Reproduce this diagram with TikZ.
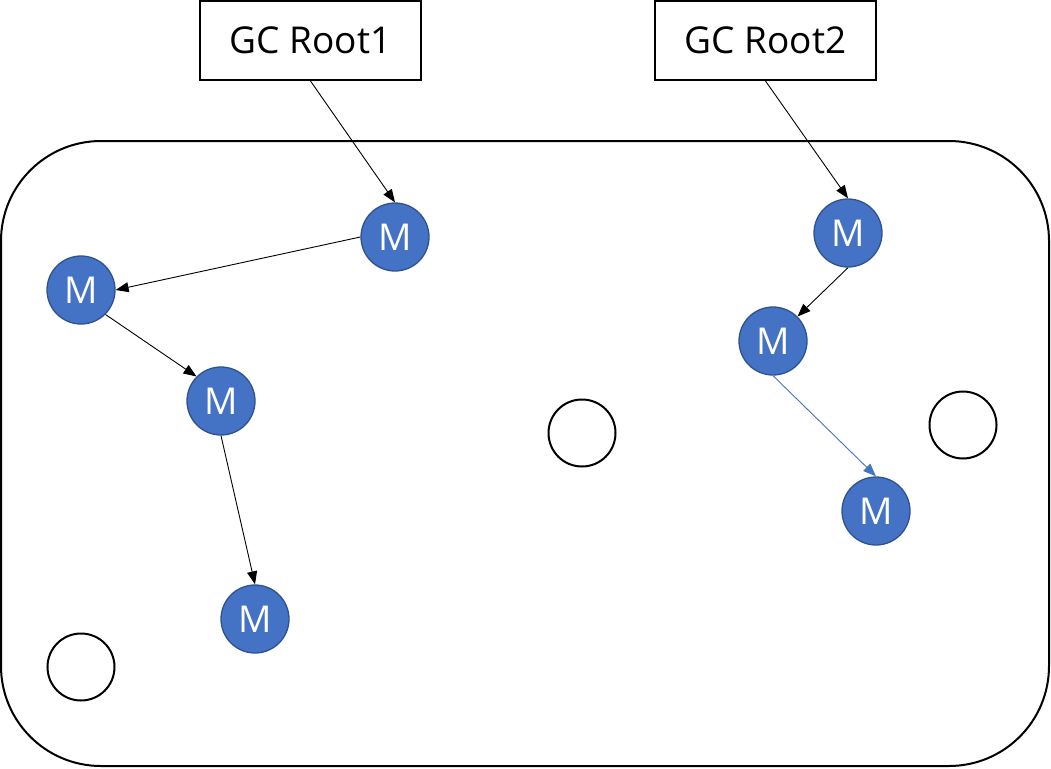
\documentclass[tikz,border=0pt]{standalone}
\usepackage{fontspec}
\setmainfont{Open Sans}
\usetikzlibrary{arrows.meta}
\definecolor{mblue}{HTML}{4472C4}
\definecolor{mborder}{HTML}{2F528F}
\begin{document}
\begin{tikzpicture}[x=1pt,y=-1pt,
  rootbox/.style={draw=black,line width=2pt,minimum width=221pt,minimum height=79pt,inner sep=0pt,font=\fontsize{37}{40}\selectfont},
  mnode/.style={circle,fill=mblue,draw=mborder,line width=1.3pt,minimum size=68pt,inner sep=0pt,text=white,font=\fontsize{37}{40}\selectfont},
  freenode/.style={circle,draw=black,line width=2pt,minimum size=67pt,inner sep=0pt},
  conn/.style={line width=0.9pt,-{Triangle[length=13pt,width=10pt]}},
  bconn/.style={conn,draw=mblue,-{Triangle[length=13pt,width=10pt,fill=mblue]}}
]
\useasboundingbox (0,0) rectangle (1051,768);
\draw[line width=2pt,rounded corners=100pt] (1,141) rectangle (1049,766);
\node[rootbox] (r1) at (310.5,40.5) {GC Root1};
\node[rootbox] (r2) at (765.5,40.5) {GC Root2};
\node[mnode] (m1) at (395,237) {M};
\node[mnode] (m2) at (81,290) {M};
\node[mnode] (m3) at (221,401) {M};
\node[mnode] (m4) at (255,619) {M};
\node[mnode] (m5) at (848,233) {M};
\node[mnode] (m6) at (773,341) {M};
\node[mnode] (m7) at (876,511) {M};
\node[freenode] (f1) at (582,433) {};
\node[freenode] (f2) at (963,425) {};
\node[freenode] (f3) at (81,667) {};
\draw[conn] (r1.south) -- (m1.north);
\draw[conn] (r2.south) -- (m5.north);
\draw[conn] (m1.west) -- (m2.east);
\draw[conn] (m2.south east) -- (m3.north west);
\draw[conn] (m3.south) -- (m4.north);
\draw[conn] (m5.south) -- (m6.north east);
\draw[bconn] (m6.south) -- (m7.north);
\end{tikzpicture}
\end{document}
